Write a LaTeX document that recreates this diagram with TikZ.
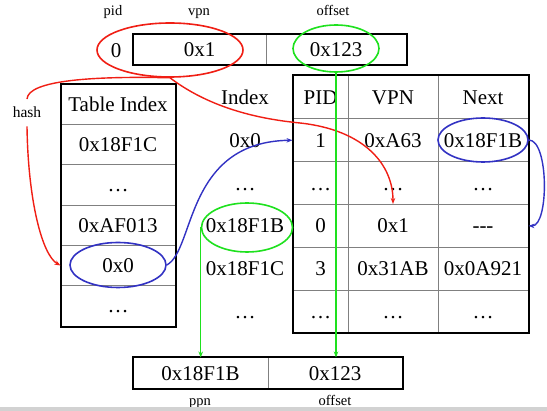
\documentclass[tikz,border=0pt]{standalone}
\usepackage{fontspec}
\setmainfont{Liberation Serif}
\usetikzlibrary{arrows.meta,shapes,positioning}

\definecolor{hashred}{RGB}{240,30,20}
\definecolor{pagegreen}{RGB}{30,225,30}
\definecolor{chainblue}{RGB}{50,50,195}

\begin{document}
\begin{tikzpicture}[x=1pt, y=-1pt, >=Stealth,
    every node/.style={font=\fontsize{21}{24}\selectfont},
    lbl/.style={font=\fontsize{14.5}{16}\selectfont, anchor=base, inner sep=0pt},
    entry/.style={inner sep=0pt, text height=14pt, text depth=0pt},
    cell/.style={entry, draw=gray, line width=1pt},
    ring/.style={draw, ellipse, line width=1.6pt, inner sep=0pt},
    wire/.style={line width=1.4pt},
    link/.style={wire, -{Stealth[length=6pt,width=4.5pt]}}]
    \useasboundingbox (0,0) rectangle (547,411);
    \fill[white] (0,0) rectangle (547,411);

    % virtual address
    \node[lbl] (pidlbl) at (113,16) {pid};
    \node[lbl] (vpnlbl) at (199,16) {vpn};
    \node[lbl] (offlbl) at (333,16) {offset};
    \node[entry] (vpid) at (116,51) {0};
    \node[cell, minimum width=133pt, minimum height=30pt] (vvpn) at (199.5,50) {0x1};
    \node[cell, minimum width=140pt, minimum height=30pt] (voff) at (336,50) {0x123};
    \draw[line width=2pt] (vvpn.north west) rectangle (voff.south east);

    % hash anchor table
    \foreach \txt [count=\i from 0] in {Table Index, 0x18F1C, \dots, 0xAF013, 0x0, \dots}
      \node[cell, minimum width=114pt, minimum height=40.33pt] (ti\i) at (118,104.2+40.33*\i) {\txt};
    \draw[line width=2pt] (ti0.north west) rectangle (ti5.south east);

    % inverted page table
    \foreach \idx/\p/\v/\n [count=\i from 0] in {Index/PID/VPN/Next, 0x0/1/0xA63/0x18F1B,
        \dots/\dots/\dots/\dots, 0x18F1B/0/0x1/-{}-{}-, 0x18F1C/3/0x31AB/0x0A921, \dots/\dots/\dots/\dots} {
      \node[entry] (idx\i) at (245,97.4+42.83*\i) {\idx};
      \node[cell, minimum width=55pt, minimum height=42.83pt] (pid\i) at (320.5,97.4+42.83*\i) {\p};
      \node[cell, minimum width=90pt, minimum height=42.83pt] (vpn\i) at (393,97.4+42.83*\i) {\v};
      \node[cell, minimum width=90pt, minimum height=42.83pt] (nxt\i) at (483,97.4+42.83*\i) {\n};
    }
    \draw[line width=2pt] (pid0.north west) rectangle (nxt5.south east);

    % physical address
    \node[cell, minimum width=135pt, minimum height=31pt] (bppn) at (200.5,373.5) {0x18F1B};
    \node[cell, minimum width=134pt, minimum height=31pt] (boff) at (335,373.5) {0x123};
    \draw[line width=2pt] (bppn.north west) rectangle (boff.south east);
    \node[lbl] (ppnlbl) at (200,406) {ppn};
    \node[lbl] (poffl) at (335,406) {offset};

    % rings
    \node[ring, draw=hashred, minimum width=146pt, minimum height=54pt] (vpnring) at (170,50) {};
    \node[ring, draw=pagegreen, minimum width=86pt, minimum height=47pt] (offring) at (336,48.5) {};
    \node[ring, draw=chainblue, minimum width=96pt, minimum height=45pt] (tiring) at (118,265) {};
    \node[ring, draw=chainblue, minimum width=90pt, minimum height=44pt] (nextring) at (483,140) {};
    \node[ring, draw=pagegreen, minimum width=91pt, minimum height=49pt] (idxring) at (247,227.5) {};

    % hash
    \node[lbl, font=\fontsize{15.5}{17}\selectfont, inner ysep=8pt] (hash) at (27,118) {hash};
    \draw[wire, hashred] (vpnring.south) .. controls (95,76) and (28,80) .. (hash.north);
    \draw[link, hashred] (hash.south) .. controls (28,200) and (42,255) .. (ti4.west);
    \draw[link, hashred] (vpnring.south) .. controls (215,112) and (270,120) .. (300,123)
      .. controls (365,130) and (393,165) .. (vpn3.north);

    % chain
    \draw[link, chainblue] (tiring.east) .. controls (195,250) and (185,142) .. (pid1.west);
    \draw[link, chainblue] (nextring.east) .. controls (549,140) and (549,226) .. (nxt3.east);

    % frame number and offset
    \draw[link, pagegreen] (offring.south) -- (offring.south |- boff.north);
    \draw[link, pagegreen] (idxring.west) -- (idxring.west |- bppn.north);

    \fill[gray!35] (0,407) rectangle (547,411);
  \end{tikzpicture}
\end{document}
